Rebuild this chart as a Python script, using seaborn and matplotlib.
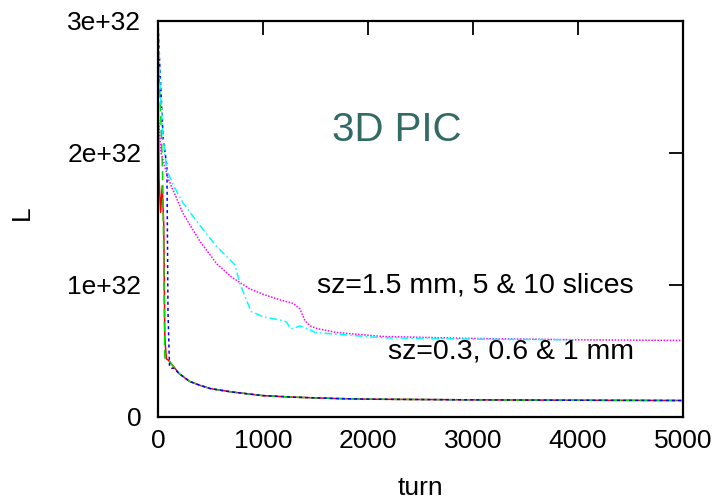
import matplotlib
matplotlib.use("Agg")
import matplotlib.pyplot as plt
import seaborn as sns
import pandas as pd

# ---- data (L in units of 1e32) ----
red_turn = [0, 10, 25, 40, 55, 65, 80, 100, 150, 200, 300, 400, 500, 700, 1000, 1300, 1700, 2000, 3000, 4000, 5000]
red_L = [2.6, 1.8, 1.55, 1.75, 1.45, 0.6, 0.44, 0.43, 0.38, 0.33, 0.27, 0.24, 0.215, 0.19, 0.162, 0.15, 0.14, 0.135, 0.13, 0.127, 0.125]

green_turn = [0, 15, 30, 45, 55, 65, 80, 100, 150, 200, 300, 400, 500, 700, 1000, 1300, 1700, 2000, 3000, 4000, 5000]
green_L = [2.8, 2.5, 2.2, 1.8, 1.2, 0.45, 0.43, 0.43, 0.38, 0.33, 0.27, 0.24, 0.215, 0.19, 0.162, 0.15, 0.14, 0.135, 0.13, 0.127, 0.125]

blue_turn = [0, 20, 50, 85, 95, 110, 130, 150, 200, 300, 400, 500, 700, 1000, 1300, 1700, 2000, 3000, 4000, 5000]
blue_L = [3.0, 2.6, 2.1, 1.9, 0.8, 0.38, 0.37, 0.37, 0.33, 0.27, 0.24, 0.215, 0.19, 0.162, 0.15, 0.14, 0.135, 0.13, 0.127, 0.125]

magenta_turn = [0, 30, 50, 100, 240, 400, 560, 700, 876, 1000, 1150, 1290, 1350, 1400, 1450, 1514, 1700, 2140, 3000, 4000, 5000]
magenta_L = [2.3, 2.0, 1.94, 1.8, 1.54, 1.33, 1.16, 1.06, 0.97, 0.93, 0.89, 0.86, 0.82, 0.73, 0.69, 0.67, 0.64, 0.61, 0.595, 0.585, 0.58]

cyan_turn = [0, 20, 50, 85, 150, 240, 400, 560, 700, 733, 780, 886, 1000, 1190, 1225, 1260, 1290, 1350, 1420, 1500, 2140, 3000, 3950]
cyan_L = [3.0, 2.5, 2.1, 1.87, 1.75, 1.62, 1.45, 1.29, 1.18, 1.15, 1.01, 0.80, 0.76, 0.73, 0.72, 0.67, 0.67, 0.69, 0.67, 0.64, 0.60, 0.59, 0.585]

x_ticks = [0, 1000, 2000, 3000, 4000, 5000]
y_ticks = [0, 1, 2, 3]
y_tick_labels = ["0", "1e+32", "2e+32", "3e+32"]

sns.set_style("white")
plt.rcParams['font.family'] = ['Liberation Sans', 'DejaVu Sans']
plt.rcParams['text.color'] = 'black'
plt.rcParams['axes.labelcolor'] = 'black'

fig = plt.figure(figsize=(7.18, 5.0), dpi=100)
ax = fig.add_axes([158/718, 1 - 417/500, (683 - 158)/718, (417 - 21)/500])

series = [
    (red_turn, red_L, "#ff0000", "-"),
    (green_turn, green_L, "#00dd00", (0, (6, 3))),
    (blue_turn, blue_L, "#0000ff", (0, (2, 2))),
    (magenta_turn, magenta_L, "#ff00ff", (0, (1, 1))),
    (cyan_turn, cyan_L, "#00ffff", (0, (5, 2, 1, 2))),
]
for t, L, c, ls in series:
    df = pd.DataFrame({"turn": t, "L": L})
    sns.lineplot(data=df, x="turn", y="L", ax=ax, color=c, linewidth=1.1,
                 linestyle=ls, estimator=None, sort=False)

ax.set_xlim(0, 5000)
ax.set_ylim(0, 3)
ax.set_xticks(x_ticks)
ax.set_yticks(y_ticks)
ax.set_yticklabels(y_tick_labels)
ax.tick_params(direction="in", length=10, width=1.3, labelsize=19, colors="black",
               top=True, right=True)
ax.tick_params(axis="y", pad=12)
ax.tick_params(axis="x", pad=9)
for s in ax.spines.values():
    s.set_color("black")
    s.set_linewidth(1.6)
    s.set_visible(True)

ax.set_xlabel("turn", fontsize=19)
ax.set_ylabel("L", fontsize=19)
ax.xaxis.set_label_coords(0.5, -0.148)
ax.yaxis.set_label_coords(-0.236, 0.515)

fig.text(397/718, 1 - 130/500, "3D PIC", fontsize=29, color="#326a64",
         ha="center", va="center")
fig.text(475/718, 1 - 285/500, "sz=1.5 mm, 5 & 10 slices",
         fontsize=20.5, ha="center", va="center", color="black")
fig.text(511/718, 1 - 352/500, "sz=0.3, 0.6 & 1 mm",
         fontsize=20.5, ha="center", va="center", color="black")

fig.savefig("out.png", dpi=100)
